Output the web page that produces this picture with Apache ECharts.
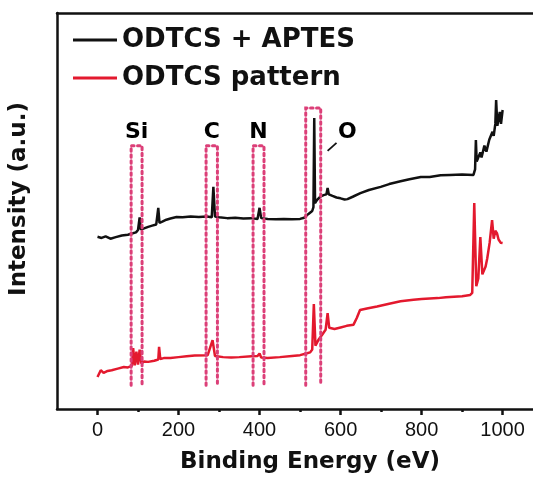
<!DOCTYPE html>
<html>
<head>
<meta charset="utf-8">
<script src="https://cdn.jsdelivr.net/npm/echarts@6/dist/echarts.min.js"></script>
<style>
html,body{margin:0;padding:0;background:#fff;}
#chart{width:533px;height:481px;}
</style>
</head>
<body>
<div id="chart"></div>
<script>
// ---- data (binding energy in eV, intensity in arbitrary units) ----
const seriesNames = ['ODTCS + APTES', 'ODTCS pattern'];

const odtcsAptes = [
  [0,43.5],[10,43.2],[20,43.6],[32,43.0],[45,43.4],[60,43.8],[75,44.0],[85,44.3],[95,44.6],
  [100,45.2],[104,48.4],[107,45.3],[115,45.6],[125,46.0],[135,46.3],[145,46.6],[150,50.8],
  [153,47.0],[160,47.3],[170,47.8],[180,48.1],[195,48.5],[210,48.4],[230,48.6],[250,48.5],
  [270,48.6],[282,48.4],[286,56.1],[290,48.6],[300,48.4],[320,48.2],[340,48.3],[360,48.1],
  [380,48.2],[395,48.0],[400,50.8],[404,48.2],[420,48.0],[440,47.9],[460,48.0],[480,47.9],
  [500,48.0],[510,48.3],[520,49.2],[530,50.0],[533,51.0],[535,73.5],[537,52.0],[542,52.8],
  [550,53.6],[558,54.0],[565,54.2],[568,55.8],[571,54.2],[580,53.8],[590,53.4],[600,53.2],
  [610,52.9],[617,53.0],[630,53.6],[649,54.5],[670,55.3],[699,56.1],[720,56.8],[748,57.5],
  [770,58.0],[798,58.6],[820,58.6],[847,59.0],[870,59.1],[900,59.2],[928,59.1],[932,60.5],
  [934,67.9],[936,62.5],[940,63.0],[945,64.8],[948,63.5],[955,66.5],[960,65.0],[967,68.0],
  [975,70.0],[978,69.0],[982,72.0],[984,78.0],[987,71.5],[993,75.0],[996,72.0],[1000,75.5]
];

const odtcsPattern = [
  [0,8.1],[8,9.8],[15,9.1],[25,9.6],[35,9.8],[50,10.2],[65,10.6],[75,10.5],[85,10.9],
  [88,15.4],[92,11.0],[96,14.5],[100,11.2],[104,15.0],[108,11.5],[115,12.0],[125,11.9],
  [140,12.2],[150,12.5],[152,15.7],[155,12.6],[165,12.9],[180,12.9],[200,13.1],[220,13.3],
  [240,13.5],[272,13.6],[284,17.4],[290,13.4],[310,13.1],[330,13.0],[350,13.1],[380,13.3],
  [395,13.4],[400,14.0],[404,13.0],[420,12.9],[450,13.1],[480,13.4],[500,13.6],[515,14.0],
  [525,14.3],[530,15.0],[534,26.5],[538,16.0],[545,17.4],[555,18.8],[563,20.0],[568,24.2],
  [572,20.5],[585,20.2],[600,20.6],[615,21.0],[632,21.3],[640,23.0],[648,25.0],[665,25.4],
  [690,25.9],[720,26.6],[748,27.2],[780,27.6],[800,27.8],[840,28.0],[860,28.2],[900,28.5],
  [920,28.8],[925,29.3],[930,52.0],[935,31.0],[940,33.0],[945,43.4],[950,34.0],[958,36.0],
  [962,38.0],[968,42.0],[974,47.7],[978,43.0],[982,45.0],[986,44.4],[990,42.8],[995,42.0],
  [1000,41.9]
];

// element windows (eV) marked by dotted boxes
const peakNames = ['Si', 'C', 'N', 'O'];
const peakWindows = [[83,110],[268,296],[384,411],[514,551]];
const windowTops = [66.5, 66.5, 66.5, 76];
const windowBottom = 6;
const labelLevel = 70;
const oLabelEnergy = 617;
const oLeader = [[568,65.2],[590,67.2]];

const majorTicks = [0,200,400,600,800,1000];
const minorTicks = [100,300,500,700,900];

// ---- chart ----
const chart = echarts.init(document.getElementById('chart'), null, {renderer:'canvas'});
const boldFont = 'DejaVu Sans';
const plainFont = 'Liberation Sans';

const boxData = peakWindows.map((w,i) => [w[0], w[1], windowTops[i], windowBottom]);
const labelData = peakNames.map((n,i) => ({
  name: n,
  value: [n === 'O' ? oLabelEnergy : (peakWindows[i][0]+peakWindows[i][1])/2, labelLevel]
}));

const axisLineStyle = {color:'#111', width:2.5};

chart.setOption({
  animation: false,
  backgroundColor: '#fff',
  grid: {left:57, top:13, right:0, bottom:72},
  legend: {
    data: seriesNames,
    orient: 'vertical',
    left: 73, top: 27,
    padding: 0,
    itemGap: 12,
    itemWidth: 44, itemHeight: 3,
    icon: 'rect',
    textStyle: {fontFamily: boldFont, fontWeight:'bold', fontSize: 26, color:'#111', lineHeight: 26}
  },
  xAxis: [{
    type:'value', min:-100, max:1075,
    axisLine:{show:true, onZero:false, lineStyle:axisLineStyle},
    axisTick:{show:true, customValues: majorTicks, length:6, lineStyle:axisLineStyle},
    axisLabel:{customValues: majorTicks, formatter: v => String(v), fontFamily: plainFont, fontSize:20, color:'#111', margin:11},
    splitLine:{show:false},
    name:'Binding Energy (eV)', nameLocation:'middle', nameGap:42,
    nameTextStyle:{fontFamily: boldFont, fontWeight:'bold', fontSize:23, color:'#111', padding:[0,0,0,30]}
  },{
    type:'value', min:-100, max:1075, position:'bottom',
    axisLine:{show:false},
    axisTick:{show:true, customValues: minorTicks, length:3, lineStyle:axisLineStyle},
    axisLabel:{show:false},
    splitLine:{show:false}
  },{
    type:'value', min:-100, max:1075, position:'top',
    axisLine:{show:true, onZero:false, lineStyle:axisLineStyle},
    axisTick:{show:false}, axisLabel:{show:false}, splitLine:{show:false}
  }],
  yAxis: {
    type:'value', min:0, max:100,
    axisLine:{show:true, onZero:false, lineStyle:axisLineStyle},
    axisTick:{show:false}, axisLabel:{show:false}, splitLine:{show:false},
    name:'Intensity (a.u.)', nameLocation:'middle', nameGap:26, nameRotate:90,
    nameTextStyle:{fontFamily: boldFont, fontWeight:'bold', fontSize:23, color:'#111', padding:[0,0,0,24]}
  },
  series: [
    {
      name: seriesNames[0], type:'line', data: odtcsAptes, showSymbol:false, symbol:'none',
      lineStyle:{color:'#111', width:2.5}, itemStyle:{color:'#111'}, z:3
    },
    {
      name: seriesNames[1], type:'line', data: odtcsPattern, showSymbol:false, symbol:'none',
      lineStyle:{color:'#e3192e', width:2.5}, itemStyle:{color:'#e3192e'}, z:3
    },
    {
      type:'custom', data: boxData, z:4, silent:true,
      encode:{x:[0,1], y:[2,3]},
      renderItem: function(params, api){
        const x1 = api.value(0), x2 = api.value(1), top = api.value(2), bot = api.value(3);
        const pts = [api.coord([x1,bot]), api.coord([x1,top]), api.coord([x2,top]), api.coord([x2,bot])];
        return {type:'polyline', shape:{points:pts},
          style:{stroke:'#dc3f78', lineWidth:3, lineDash:[2.5,3.5], fill:null, lineCap:'round'}};
      }
    },
    {
      type:'line', data: oLeader, showSymbol:false, symbol:'none', silent:true,
      lineStyle:{color:'#111', width:1.8}, z:5
    },
    {
      type:'scatter', data: labelData, symbolSize:0, silent:true, z:6,
      itemStyle:{opacity:1},
      label:{show:true, position:'inside', formatter: p => p.name, opacity:1,
        fontFamily: boldFont, fontWeight:'bold', fontSize:22, color:'#000', textBorderWidth:0}
    }
  ]
});
</script>
</body>
</html>
